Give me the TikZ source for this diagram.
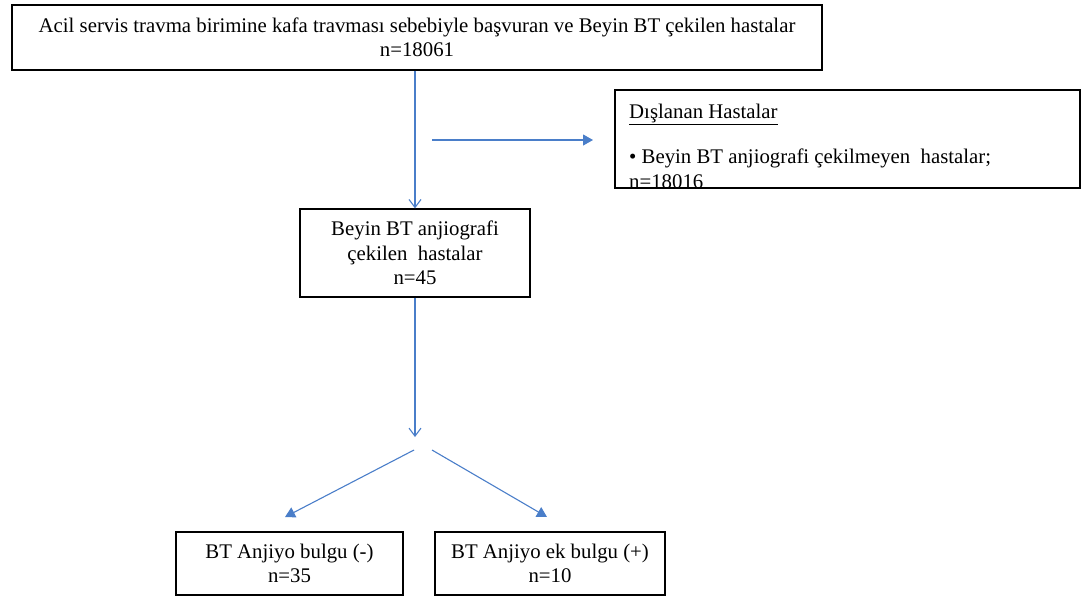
\documentclass[tikz,border=0pt]{standalone}
\usepackage{fontspec}
\setmainfont{Liberation Serif}
\usetikzlibrary{arrows.meta}
\definecolor{arrowblue}{RGB}{74,126,201}
\begin{document}
\begin{tikzpicture}[x=1pt,y=-1pt,
  txt/.style={font=\fontsize{20.8}{24.5}\selectfont},
  box/.style={draw=black,line width=1.3pt,inner sep=0pt,align=center,txt},
  conn/.style={draw=arrowblue,line width=1.1pt},
  openhead/.style={conn,-{Straight Barb[length=8pt,width=12pt,line width=1.1pt]}},
  filledhead/.style={conn,-{Triangle[length=10pt,width=11pt]}}]
\useasboundingbox (0,0) rectangle (1081,598);
% boxes
\node[box,minimum width=810pt,minimum height=65pt] (top) at (417,37.5)
  {Acil servis travma birimine kafa travması sebebiyle başvuran ve Beyin BT çekilen hastalar\\ n=18061};
\node[box,minimum width=465pt,minimum height=98pt] (excl) at (847.5,139) {};
\node[anchor=base west,txt,inner sep=0pt] (exclt) at (629,118) {\underline{Dışlanan Hastalar}};
\node[anchor=base west,txt,inner sep=0pt] (exclb) at (629,163) {• Beyin BT anjiografi çekilmeyen\ \ hastalar;};
\node[anchor=base west,txt,inner sep=0pt] (excln) at (629,188) {n=18016};
\node[box,minimum width=230pt,minimum height=88pt] (mid) at (415,253)
  {Beyin BT anjiografi\\ çekilen\ \ hastalar\\ n=45};
\node[box,minimum width=227pt,minimum height=63pt] (neg) at (289.5,563.5)
  {BT Anjiyo bulgu (-)\\ n=35};
\node[box,minimum width=230pt,minimum height=63pt] (pos) at (550,563.5)
  {BT Anjiyo ek bulgu (+)\\ n=10};
% free arrow ends
\coordinate (hs) at (432,140);
\coordinate (he) at (593,140);
\coordinate (split) at (415,437);
\coordinate (ls) at (414,450);
\coordinate (le) at (285,517);
\coordinate (rs) at (432,450);
\coordinate (re) at (547,517);
% connectors
\draw[openhead] (top.south -| mid.north) -- (mid.north);
\draw[filledhead] (hs) -- (he);
\draw[openhead] (mid.south) -- (split);
\draw[filledhead] (ls) -- (le);
\draw[filledhead] (rs) -- (re);
\end{tikzpicture}
\end{document}
